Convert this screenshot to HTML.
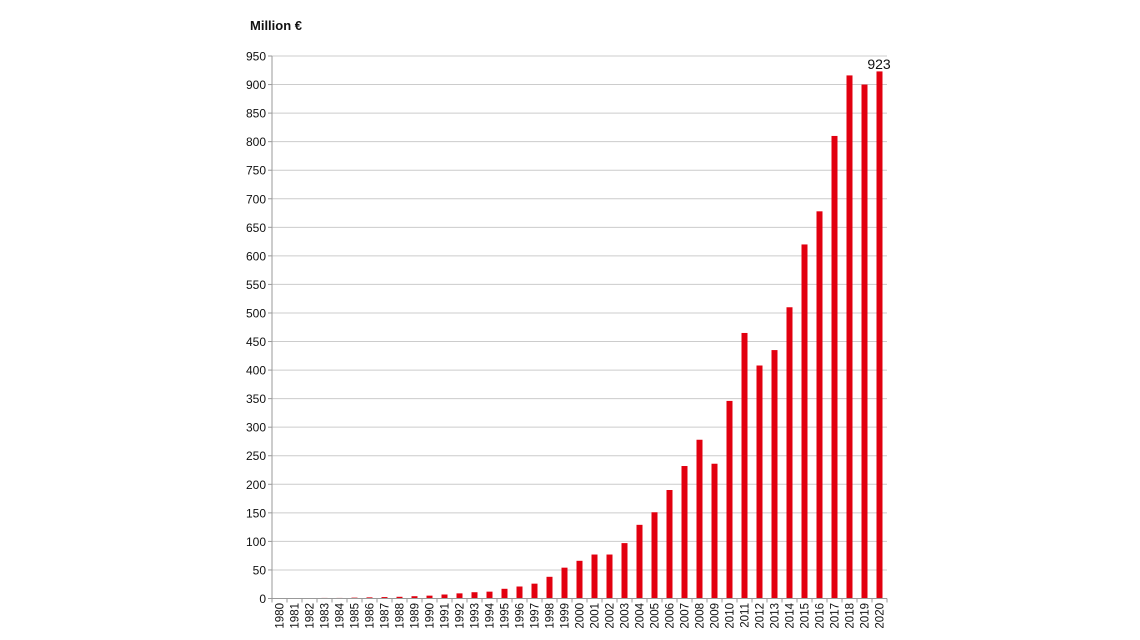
<!DOCTYPE html>
<html><head><meta charset="utf-8"><style>
html,body{margin:0;padding:0;background:#fff;}
svg{display:block;font-family:"Liberation Sans",sans-serif;}
</style></head><body>
<svg width="1140" height="640" xmlns="http://www.w3.org/2000/svg" id="s">
<text x="250" y="30" font-size="13" font-weight="bold" fill="#111">Million €</text>
<g id="g"></g>
</svg>
<script>
var ns="http://www.w3.org/2000/svg",g=document.getElementById("g");
function el(t,a,txt){var e=document.createElementNS(ns,t);for(var k in a)e.setAttribute(k,a[k]);if(txt!=null)e.textContent=txt;g.appendChild(e);return e;}
var y0=598.5,sc=(598.5-56)/950;
for(var v=0;v<=950;v+=50){var y=y0-v*sc;
 if(v>0)el("line",{x1:272,x2:887,y1:y,y2:y,stroke:"#ccc","stroke-width":1});
 el("line",{x1:268,x2:272,y1:y,y2:y,stroke:"#999"});
 el("text",{x:266,y:y+4.5,"font-size":"12","text-anchor":"end",fill:"#111"},v);}
var d=[0,0.3,0.5,1,1,1.5,2,2.5,3,4,5,7,9,11,12,17,21,26,38,54,66,77,77,97,129,151,190,232,278,236,346,465,408,435,510,620,678,810,916,900,923];
for(var i=0;i<41;i++){var cx=279.5+15*i,h=d[i]*sc;
 if(h>0)el("rect",{x:cx-3,y:y0-h,width:6,height:h,fill:"#e2000f"});
 el("line",{x1:272+15*i,x2:272+15*i,y1:y0,y2:y0+4,stroke:"#999"});
 var t=el("text",{x:0,y:0,"font-size":"11.5","text-anchor":"end",fill:"#111",transform:"translate("+(cx+4)+",603) rotate(-90)"},1980+i);}
el("line",{x1:887,x2:887,y1:y0,y2:y0+4,stroke:"#999"});
el("line",{x1:272,x2:272,y1:56,y2:y0,stroke:"#999"});
el("line",{x1:272,x2:887,y1:y0,y2:y0,stroke:"#999"});
el("text",{x:879,y:69,"font-size":"14","text-anchor":"middle",fill:"#111"},"923");
</script>
</body></html>
